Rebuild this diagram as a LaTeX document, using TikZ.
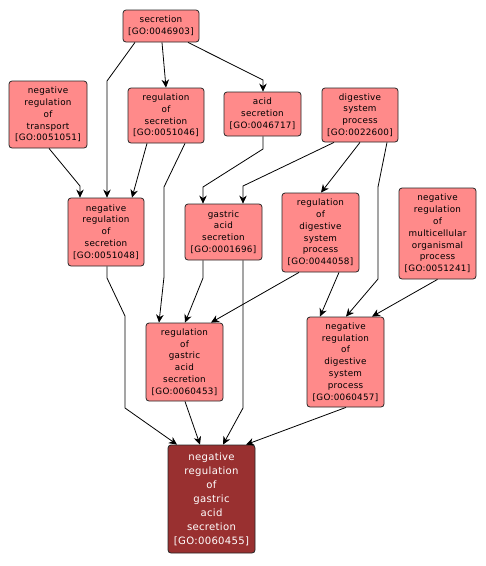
\documentclass[tikz,border=0pt]{standalone}
\usepackage{fontspec}
\newfontfamily\dejavu[LetterSpace=3]{DejaVu Sans}
\usetikzlibrary{arrows.meta}
\definecolor{salmon}{RGB}{255,138,138}
\definecolor{darkred}{RGB}{153,48,48}
\tikzset{
  gobox/.style={draw=black!85, fill=salmon, rounded corners=3pt, align=center,
    font=\dejavu\fontsize{8.8}{11.8}\selectfont, inner sep=0pt, line width=0.8pt},
  finbox/.style={gobox, fill=darkred, text=white, font=\dejavu\fontsize{10.1}{14}\selectfont},
  edge/.style={draw=black, line width=0.8pt, -{Stealth[length=8pt,width=7.5pt,inset=2.5pt]}}
}
\begin{document}
\begin{tikzpicture}[x=1pt,y=-1pt]
\useasboundingbox (0,0) rectangle (486,566);
\node[gobox, minimum width=76pt, minimum height=32pt] (sec) at (161,26) {secretion\\{[GO:0046903]}};
\node[gobox, minimum width=78pt, minimum height=67pt] (nrt) at (48,114.5) {negative\\regulation\\of\\transport\\{[GO:0051051]}};
\node[gobox, minimum width=76pt, minimum height=55pt] (rs) at (166,115.5) {regulation\\of\\secretion\\{[GO:0051046]}};
\node[gobox, minimum width=77pt, minimum height=44pt] (as) at (262.5,114) {acid\\secretion\\{[GO:0046717]}};
\node[gobox, minimum width=76pt, minimum height=54pt] (dsp) at (360,115) {digestive\\system\\process\\{[GO:0022600]}};
\node[gobox, minimum width=76pt, minimum height=68pt] (nrs) at (106,232) {negative\\regulation\\of\\secretion\\{[GO:0051048]}};
\node[gobox, minimum width=77pt, minimum height=56pt] (gas) at (223.5,232) {gastric\\acid\\secretion\\{[GO:0001696]}};
\node[gobox, minimum width=77pt, minimum height=79pt] (rds) at (320.5,232.5) {regulation\\of\\digestive\\system\\process\\{[GO:0044058]}};
\node[gobox, minimum width=77pt, minimum height=91pt] (nrm) at (437.5,233.5) {negative\\regulation\\of\\multicellular\\organismal\\process\\{[GO:0051241]}};
\node[gobox, minimum width=77pt, minimum height=78pt] (rga) at (184.5,362) {regulation\\of\\gastric\\acid\\secretion\\{[GO:0060453]}};
\node[gobox, minimum width=77pt, minimum height=90pt] (nrd) at (345.5,362) {negative\\regulation\\of\\digestive\\system\\process\\{[GO:0060457]}};
\node[finbox, minimum width=87pt, minimum height=108pt] (fin) at (211.5,499) {negative\\regulation\\of\\gastric\\acid\\secretion\\{[GO:0060455]}};

\draw[edge] ([xshift=-26pt]sec.south) -- (107,81) -- ([xshift=1pt]nrs.north);
\draw[edge] ([xshift=1pt]sec.south) -- ([xshift=0pt]rs.north);
\draw[edge] ([xshift=27pt]sec.south) -- (263,80) -- ([xshift=0.5pt]as.north);
\draw[edge] ([xshift=1pt]nrt.south) -- (80,186) -- ([xshift=-26pt]nrs.north);
\draw[edge] ([xshift=-19pt]rs.south) -- ([xshift=26pt]nrs.north);
\draw[edge] ([xshift=19pt]rs.south) -- (164,187) -- (164,277) -- ([xshift=-25.5pt]rga.north);
\draw[edge] ([xshift=0.5pt]as.south) -- (263,149) -- (203,187) -- ([xshift=-20.5pt]gas.north);
\draw[edge] ([xshift=-26pt]dsp.south) -- (243,186) -- ([xshift=19.5pt]gas.north);
\draw[edge] (dsp.south) -- ([xshift=0.5pt]rds.north);
\draw[edge] ([xshift=27pt]dsp.south) -- (378,187) -- (378,279) -- ([xshift=0.5pt]nrd.north);
\draw[edge] (nrm.south) -- ([xshift=26.5pt]nrd.north);
\draw[edge] ([xshift=18.5pt]rds.south) -- ([xshift=-25.5pt]nrd.north);
\draw[edge] ([xshift=-21.5pt]rds.south) -- ([xshift=26.5pt]rga.north);
\draw[edge] ([xshift=-20.5pt]gas.south) -- (203,278) -- ([xshift=0.5pt]rga.north);
\draw[edge] ([xshift=19.5pt]gas.south) -- (243,408) -- ([xshift=11.5pt]fin.north);
\draw[edge] ([xshift=1pt]nrs.south) -- (107,278) -- (125,316) -- (125,408) -- ([xshift=-34.5pt]fin.north);
\draw[edge] ([xshift=0.5pt]rga.south) -- ([xshift=-11.5pt]fin.north);
\draw[edge] ([xshift=0.5pt]nrd.south) -- ([xshift=34.5pt]fin.north);
\end{tikzpicture}
\end{document}
